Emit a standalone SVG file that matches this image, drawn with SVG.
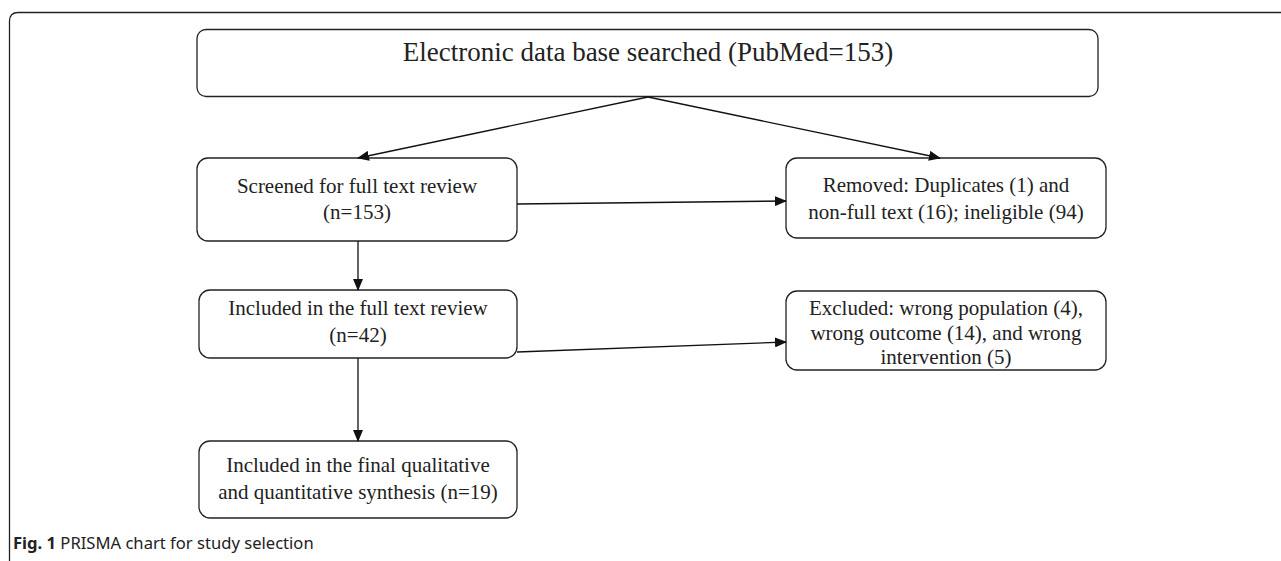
<svg xmlns="http://www.w3.org/2000/svg" width="1281" height="561" viewBox="0 0 1281 561">
<style>
.box{fill:#fff;stroke:#222;stroke-width:1.3}
.t{font-family:"Liberation Serif","Times New Roman",serif;font-size:21px;fill:#222;text-anchor:middle}
.c{stroke:#111;stroke-width:1.3;fill:none}
.cap{font-family:"Noto Sans","Open Sans",sans-serif;font-size:16.6px;fill:#222}
</style>
<defs>
<marker id="ah" markerWidth="12" markerHeight="10" refX="11" refY="5" orient="auto" markerUnits="userSpaceOnUse">
<path d="M0,0 L12,5 L0,10 Z" fill="#111"/>
</marker>
</defs>
<rect width="1281" height="561" fill="#fff"/>
<path d="M9.5,561 V21 Q9.5,12.5 18,12.5 H1281" fill="none" stroke="#222" stroke-width="1.3"/>
<g id="n1">
<rect class="box" x="197" y="29.5" width="901" height="67" rx="9"/>
<text class="t" x="648" y="61" style="font-size:27px">Electronic data base searched (PubMed=153)</text>
</g>
<g id="n2">
<rect class="box" x="197" y="158" width="320" height="83" rx="11"/>
<text class="t" x="357" y="193">Screened for full text review</text>
<text class="t" x="357" y="219">(n=153)</text>
</g>
<g id="n3">
<rect class="box" x="786" y="158" width="320" height="80" rx="11"/>
<text class="t" x="946" y="192">Removed: Duplicates (1) and</text>
<text class="t" x="946" y="219">non-full text (16); ineligible (94)</text>
</g>
<g id="n4">
<rect class="box" x="199" y="290" width="318" height="68" rx="11"/>
<text class="t" x="358" y="315">Included in the full text review</text>
<text class="t" x="358" y="342">(n=42)</text>
</g>
<g id="n5">
<rect class="box" x="786" y="291" width="320" height="79" rx="11"/>
<text class="t" x="946" y="315">Excluded: wrong population (4),</text>
<text class="t" x="946" y="340">wrong outcome (14), and wrong</text>
<text class="t" x="946" y="364">intervention (5)</text>
</g>
<g id="n6">
<rect class="box" x="199" y="441" width="318" height="77" rx="11"/>
<text class="t" x="358" y="472">Included in the final qualitative</text>
<text class="t" x="358" y="499">and quantitative synthesis (n=19)</text>
</g>
<g id="connectors">
<path class="c" d="M648,97 L358,158" marker-end="url(#ah)"/>
<path class="c" d="M648,97 L940,158" marker-end="url(#ah)"/>
<path class="c" d="M517,204 L786,201" marker-end="url(#ah)"/>
<path class="c" d="M358,241 L358,290" marker-end="url(#ah)"/>
<path class="c" d="M517,352 L786,342" marker-end="url(#ah)"/>
<path class="c" d="M358,358 L358,441" marker-end="url(#ah)"/>
</g>
<text class="cap" x="13" y="549"><tspan font-weight="bold">Fig. 1</tspan> PRISMA chart for study selection</text>
</svg>
